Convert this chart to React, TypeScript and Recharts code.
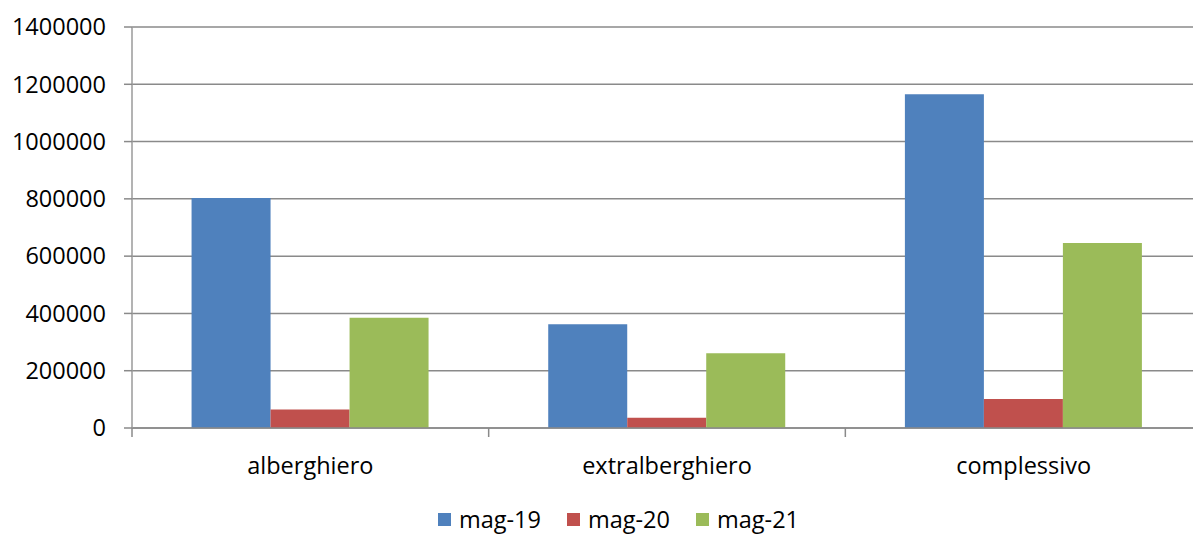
import { BarChart, Bar, XAxis, YAxis, CartesianGrid, Legend } from 'recharts';

const categories = ['alberghiero', 'extralberghiero', 'complessivo'];
const mag19 = [803000, 362000, 1165000];
const mag20 = [65000, 36000, 101000];
const mag21 = [385000, 261000, 646000];
const yTicks = [0, 200000, 400000, 600000, 800000, 1000000, 1200000, 1400000];

const series = [
  { key: 'mag-19', color: '#4F81BD' },
  { key: 'mag-20', color: '#C0504D' },
  { key: 'mag-21', color: '#9BBB59' },
];

const data = categories.map((c, i) => ({
  name: c,
  'mag-19': mag19[i],
  'mag-20': mag20[i],
  'mag-21': mag21[i],
}));

const W = 1202;
const H = 534;
const TOP = 27;
const LEFT = 132;
const BOTTOM = 428;
const BAND = (W - LEFT) / categories.length;
const FONT = '"Open Sans", sans-serif';
const FS = 23.5;
const GRID = '#8a8a8a';

function CatTick(props: any) {
  const { x, payload, index } = props;
  return (
    <g>
      <line x1={x - BAND / 2} x2={x - BAND / 2} y1={BOTTOM} y2={BOTTOM + 9} stroke={GRID} strokeWidth={1.5} />
      {index === categories.length - 1 && (
        <line x1={x + BAND / 2} x2={x + BAND / 2} y1={BOTTOM} y2={BOTTOM + 9} stroke={GRID} strokeWidth={1.5} />
      )}
      <text x={x} y={BOTTOM + 46} textAnchor="middle" fill="#000" fontSize={FS} fontFamily={FONT}>
        {payload.value}
      </text>
    </g>
  );
}

function LegendBox() {
  return (
    <div style={{ display: 'flex', justifyContent: 'center', fontFamily: FONT, fontSize: FS, color: '#000', lineHeight: '24px' }}>
      {series.map((s) => (
        <div key={s.key} style={{ display: 'flex', alignItems: 'center', margin: '0 13px' }}>
          <span style={{ width: 13, height: 13, background: s.color, display: 'inline-block', marginRight: 8 }} />
          <span>{s.key}</span>
        </div>
      ))}
    </div>
  );
}

export default function App() {
  return (
    <div style={{ position: 'fixed', left: 0, top: 0, width: 1193, height: H, overflow: 'hidden', background: '#fff' }}>
      <BarChart
        width={W}
        height={H}
        data={data}
        margin={{ top: TOP, right: 0, bottom: 0, left: 0 }}
        barCategoryGap="16.7%"
        barGap={0}
      >
        <CartesianGrid vertical={false} stroke={GRID} strokeWidth={1.5} />
        <XAxis
          dataKey="name"
          height={H - BOTTOM}
          axisLine={{ stroke: GRID, strokeWidth: 1.5 }}
          tickLine={false}
          tick={<CatTick />}
          interval={0}
        />
        <YAxis
          width={LEFT}
          domain={[0, 1400000]}
          ticks={yTicks}
          interval={0}
          axisLine={{ stroke: '#9a9a9a', strokeWidth: 1.5 }}
          tickLine={{ stroke: GRID, strokeWidth: 1.5 }}
          tickSize={8}
          tickMargin={18}
          tick={{ fill: '#000', fontSize: FS, fontFamily: FONT }}
        />
        <Legend
          verticalAlign="middle"
          align="center"
          content={<LegendBox />}
          wrapperStyle={{ top: 507, left: 22, width: 1193, height: 24 }}
        />
        {series.map((s) => (
          <Bar key={s.key} dataKey={s.key} fill={s.color} isAnimationActive={false} />
        ))}
      </BarChart>
    </div>
  );
}
